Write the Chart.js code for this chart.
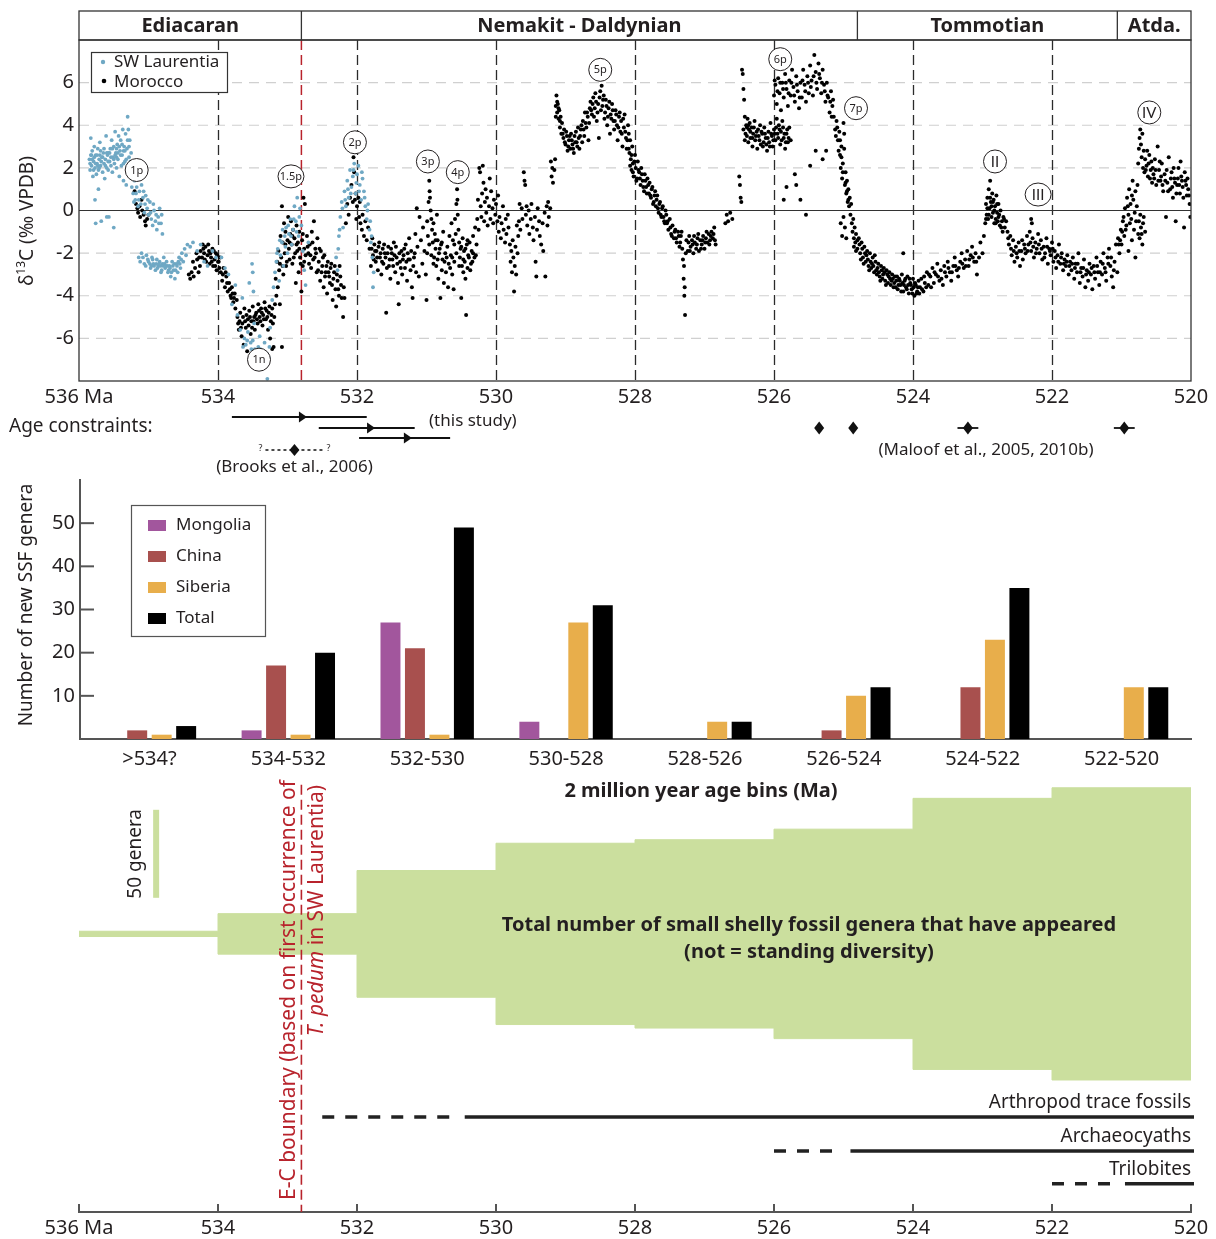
<!DOCTYPE html>
<html>
<head>
<meta charset="utf-8">
<title>Cambrian δ13C and small shelly fossils</title>
<script src="https://cdn.jsdelivr.net/npm/chart.js@4.4.1/dist/chart.umd.min.js"></script>
<style>
  html, body { margin: 0; padding: 0; background: #fff; }
  #wrap { position: relative; width: 1216px; height: 1239px; overflow: hidden; }
  canvas { position: absolute; left: 0; }
</style>
</head>
<body>
<div id="wrap">
  <canvas id="isotopes" width="1216" height="480" style="top:0px"></canvas>
  <canvas id="bars" width="1216" height="347" style="top:463px"></canvas>
  <canvas id="genera" width="1216" height="469" style="top:770px"></canvas>
</div>
<script>
const FONT = '"Noto Sans", "DejaVu Sans", sans-serif';
const INK = '#231f20';
const RED = '#b8232c';
Chart.defaults.font.family = FONT;
Chart.defaults.color = INK;

// δ13C data, [age Ma, δ13C ‰]
const laurentia = [
  [535.85,2.4],[535.84,1.9],[535.83,3.4],[535.82,2.1],[535.81,2.8],[535.8,1.6],[535.79,2.3],[535.78,3.0],[535.77,2.0],[535.76,2.6],
  [535.75,1.7],[535.74,2.2],[535.73,2.9],[535.72,1.9],[535.71,2.4],[535.7,3.2],[535.69,2.1],[535.68,-0.5],[535.67,2.5],[535.66,1.8],
  [535.65,2.7],[535.64,2.2],[535.63,1.5],[535.62,2.4],[535.61,3.5],[535.6,2.0],[535.59,2.6],[535.58,1.9],[535.57,-0.3],[535.56,2.3],
  [535.55,2.9],[535.54,2.1],[535.53,3.3],[535.52,1.8],[535.51,2.5],[535.5,3.0],[535.49,2.2],[535.48,3.7],[535.47,2.7],[535.46,2.0],
  [535.45,3.1],[535.44,2.4],[535.43,3.5],[535.42,1.6],[535.41,2.8],[535.4,3.3],[535.39,2.1],[535.38,2.6],[535.37,3.8],[535.36,1.4],
  [535.35,3.0],[535.34,2.3],[535.33,3.6],[535.32,1.2],[535.31,2.9],[535.3,4.4],[535.29,3.8],[535.28,2.5],[535.27,3.3],[535.26,1.8],
  [535.25,2.7],[535.24,1.1],[535.77,0.5],[535.76,-0.6],[535.6,-0.3],[535.5,-0.8],[535.72,1.0],[535.82,2.6],[535.7,2.6],[535.58,2.7],
  [535.46,2.5],[535.36,2.2],[535.22,0.8],[535.2,1.4],[535.19,0.5],[535.17,1.1],[535.15,0.2],[535.13,0.9],[535.11,0.3],[535.1,1.2],
  [535.08,0.6],[535.06,-0.1],[535.04,0.7],[535.02,0.1],[535.0,-0.2],[534.98,0.4],[534.96,-0.4],[534.94,-0.7],[534.92,0.0],[534.9,-0.5],
  [534.88,-0.9],[534.86,-0.3],[534.84,0.1],[534.82,-0.6],[534.8,-1.1],
  [535.14,-2.2],[535.1,-2.0],[535.06,-2.5],[535.03,-2.1],[535.0,-2.4],[534.97,-2.7],[534.95,-2.2],[534.93,-2.5],[534.9,-2.8],[534.88,-2.3],
  [534.86,-2.6],[534.84,-2.4],[534.82,-2.9],[534.8,-2.5],[534.78,-2.2],[534.76,-2.7],[534.74,-2.4],[534.72,-2.9],[534.7,-2.6],[534.68,-3.1],
  [534.66,-2.4],[534.64,-2.8],[534.62,-3.2],[534.6,-2.5],[534.58,-2.9],[534.56,-2.2],[534.54,-2.7],[534.52,-2.0],[534.5,-2.4],[534.48,-1.8],
  [534.46,-2.1],[534.44,-1.6],[534.4,-1.7],[534.36,-1.5],[534.3,-1.9],[534.25,-1.6],[534.2,-2.4],[534.15,-2.6],[534.08,-1.9],[534.03,-2.2],
  [533.95,-2.2],[533.9,-2.7],[533.85,-3.0],[533.8,-4.4],[533.75,-3.5],[533.72,-4.9],[533.68,-5.6],[533.65,-4.1],[533.62,-6.0],[533.6,-6.3],
  [533.57,-5.7],[533.55,-3.4],[533.52,-6.5],[533.5,-6.1],[533.48,-5.3],[533.45,-6.8],[533.42,-6.4],[533.4,-5.9],[533.38,-7.1],[533.35,-6.6],
  [533.33,-6.2],[533.31,-7.3],[533.29,-7.9],[533.27,-6.9],[533.25,-5.5],[533.22,-4.2],[533.2,-3.6],[533.18,-2.9],[533.16,-2.4],[533.14,-1.8],
  [533.12,-3.3],[533.1,-2.1],[533.08,-1.5],[533.06,-2.6],[533.04,-1.2],[533.02,-0.8],[533.0,-2.0],[532.98,-1.1],[532.96,-0.4],[532.94,-1.6],
  [532.92,-0.9],[532.9,0.2],[532.88,-0.5],[532.86,0.6],[532.84,-1.2],[532.82,0.1],[532.8,-0.7],[532.78,-1.9],[532.76,-2.8],[532.74,-3.5],
  [532.7,-1.5],[533.5,-2.9],[533.49,-3.8],[533.51,-2.5],
  [532.3,-2.2],[532.28,-2.8],[532.27,-1.8],[532.26,-1.2],[532.24,-0.3],[532.22,0.4],[532.2,-0.8],[532.18,0.9],[532.16,0.2],[532.14,1.4],
  [532.12,0.6],[532.1,1.9],[532.08,1.1],[532.06,1.6],[532.04,2.2],[532.02,0.8],[532.0,1.7],[531.98,2.1],[531.96,1.2],[531.94,0.5],
  [531.92,1.5],[531.9,0.9],[531.88,0.2],[531.86,-0.4],[531.84,0.3],[531.82,-0.9],[531.8,-1.5],[531.78,-2.2],[531.77,-3.6],[531.76,-2.9],
  [535.84,2.2],[535.83,2.6],[535.81,2.4],[535.79,1.9],[535.78,2.5],[535.76,2.2],[535.74,2.6],[535.73,2.1],[535.71,2.0],[535.69,2.8],
  [535.68,2.3],[535.66,2.5],[535.64,2.9],[535.62,2.1],[535.6,2.7],[535.58,2.3],[535.56,2.7],[535.54,2.5],[535.52,2.9],[535.5,2.4],
  [535.48,2.6],[535.46,2.9],[535.44,2.7],[535.42,3.0],[535.4,2.6],[535.38,3.1],[535.36,2.8],[535.34,2.8],[535.32,2.4],[535.3,3.3],
  [535.28,3.0],[535.26,2.3],[535.23,1.5],[535.21,0.4],[535.18,0.8],[535.14,0.5],[535.12,1.5],[535.07,0.9],[535.05,0.3],[535.01,0.5],
  [534.97,-0.1],[534.93,0.3],[534.89,-0.2],[534.85,-0.6],[534.81,-0.2],
  [535.12,-2.4],[535.08,-2.2],[535.04,-2.6],[535.01,-2.3],[534.98,-2.5],[534.96,-2.6],[534.94,-2.3],[534.92,-2.6],[534.89,-2.5],[534.87,-2.7],
  [534.85,-2.5],[534.83,-2.6],[534.81,-2.8],[534.79,-2.6],[534.77,-2.5],[534.75,-2.6],[534.73,-2.6],[534.71,-2.8],[534.69,-2.7],[534.67,-2.9],
  [534.65,-2.6],[534.63,-2.5],[534.61,-2.8],[534.59,-2.6],[534.57,-2.4],[534.55,-2.5],[534.53,-2.3],
  [533.64,-6.4],[533.58,-6.1],[533.53,-6.2],[533.47,-6.5],[533.43,-6.8],[533.39,-6.5],[533.34,-7.0],[533.3,-6.7],[533.26,-6.4],
  [533.15,-2.0],[533.11,-1.4],[533.07,-0.9],[533.03,-1.7],[532.99,-0.7],[532.95,-1.2],[532.91,-0.4],[532.87,-1.0],[532.83,-0.3],
  [532.25,-0.9],[532.21,0.1],[532.17,0.5],[532.13,1.0],[532.09,0.8],[532.05,1.9],[532.01,1.3],[531.97,0.9],[531.93,1.8],[531.89,0.6],
  [531.85,0.0],[531.81,-0.5],[531.79,-1.2]
];

const morocco = [
  [535.2,0.9],[535.18,0.3],[535.16,0.1],[535.15,-0.1],[535.13,0.2],[535.12,-0.3],[535.1,0.5],[535.09,0.0],[535.07,-0.2],[535.05,-0.5],
  [535.04,-0.7],[535.02,-0.4],[535.0,-0.2],
  [534.42,-3.0],[534.4,-3.2],[534.38,-2.9],[534.35,-3.1],[534.33,-2.7],[534.3,-2.3],[534.28,-2.9],[534.26,-2.6],[534.25,-1.9],[534.23,-2.2],
  [534.22,-1.6],[534.2,-2.0],[534.18,-1.7],[534.17,-2.4],[534.15,-2.1],[534.13,-1.9],[534.12,-2.5],[534.1,-2.2],[534.08,-1.8],[534.07,-2.6],
  [534.05,-2.3],[534.03,-2.0],[534.02,-2.8],[534.0,-2.4],[533.98,-2.7],
  [533.96,-2.9],[533.94,-3.3],[533.92,-2.7],[533.9,-3.6],[533.88,-3.1],[533.86,-3.8],[533.84,-3.4],[533.82,-4.0],[533.8,-3.6],[533.78,-4.3],
  [533.76,-3.9],[533.75,-4.6],[533.73,-4.2],
  [533.72,-5.0],[533.7,-5.6],[533.68,-4.8],[533.66,-5.9],[533.65,-5.3],[533.63,-6.3],[533.62,-4.6],[533.6,-5.5],[533.58,-6.6],[533.57,-5.1],
  [533.55,-4.7],[533.53,-5.8],[533.52,-5.2],[533.5,-4.5],[533.48,-5.0],[533.47,-5.6],[533.45,-4.8],[533.43,-5.3],[533.42,-4.4],[533.4,-5.0],
  [533.38,-4.6],[533.36,-5.4],[533.35,-4.9],[533.33,-4.3],[533.31,-5.1],[533.3,-4.7],[533.28,-5.6],[533.26,-4.5],[533.25,-6.0],[533.23,-4.9],
  [533.21,-5.3],[533.2,-6.4],[533.08,-6.4],[533.22,-6.5],
  [533.17,-3.2],[533.16,-4.0],[533.15,-2.4],[533.14,-3.6],[533.13,-1.9],[533.12,-2.8],[533.11,-4.4],[533.1,-1.2],[533.09,-2.2],[533.08,0.2],
  [533.07,-1.5],[533.06,-3.0],[533.05,-0.6],[533.04,-2.0],[533.03,-1.0],[533.02,-2.6],[533.0,-1.4],[532.99,-0.3],[532.98,-1.8],[532.97,-2.3],
  [532.96,-1.1],[532.95,-0.5],[532.94,-1.6],[532.93,-2.5],[532.92,-0.9],[532.9,-1.3],[532.89,-2.0],[532.88,-3.4],[532.87,-0.7],[532.86,-1.9],
  [532.85,-1.5],[532.84,-2.9],[532.83,-1.0],[532.82,-2.2],[532.8,-3.8],[532.79,-1.4],[532.78,-2.6],[532.77,0.6],[532.76,-1.8],[532.75,0.3],
  [532.74,-2.1],
  [532.72,-1.2],[532.7,-2.0],[532.68,-1.6],[532.66,-2.7],[532.65,-1.0],[532.63,-2.3],[532.62,-0.5],[532.6,-1.8],[532.58,-2.9],[532.57,-1.3],
  [532.55,-2.4],[532.53,-3.3],[532.52,-1.9],[532.5,-2.6],[532.48,-3.6],[532.47,-2.1],[532.45,-2.9],[532.43,-3.9],[532.42,-2.4],[532.4,-3.1],
  [532.38,-2.7],[532.36,-3.5],[532.35,-4.2],[532.33,-2.9],[532.31,-3.7],[532.3,-4.5],[532.28,-3.3],[532.26,-4.0],[532.25,-2.6],[532.23,-3.5],
  [532.2,-5.0],[532.18,-4.1],
  [532.16,-0.6],[532.14,0.3],[532.12,-0.2],[532.1,0.6],[532.08,1.2],[532.06,0.4],[532.05,2.5],[532.04,1.8],[532.03,0.5],[532.02,0.8],
  [532.01,-0.4],[532.0,0.2],[531.98,0.6],[531.97,-0.3],[531.96,0.4],[531.95,-0.6],[531.93,-0.9],[531.92,-0.2],[531.9,-1.2],[531.88,-0.5],
  [531.86,-1.4],[531.84,-0.8],[531.82,-1.8],[531.8,-2.6],[531.78,-1.3],[531.77,-2.1],[531.75,-1.6],[531.73,-2.4],[531.72,-1.9],[531.7,-2.8],
  [531.68,-1.5],[531.67,-2.2],[531.65,-3.0],[531.63,-1.8],[531.62,-2.5],[531.6,-2.0],[531.58,-4.8],[531.57,-2.7],[531.55,-1.7],[531.53,-2.3],
  [531.52,-3.2],[531.5,-2.0],[531.48,-2.6],[531.47,-1.5],[531.45,-2.9],[531.43,-2.2],[531.41,-3.4],[531.4,-4.4],[531.38,-2.4],[531.36,-1.9],
  [531.35,-3.0],[531.33,-2.1],[531.31,-2.7],[531.3,-1.6],[531.28,-3.3],[531.26,-2.3],[531.25,-1.3],[531.23,-2.8],[531.21,-3.6],[531.2,-4.1],
  [531.18,-2.2],[531.16,-1.1],[531.15,-2.9],[531.14,0.1],[531.13,-1.7],[531.11,-3.1],
  [531.1,-0.3],[531.08,-1.4],[531.06,-2.5],[531.05,-0.8],[531.03,-1.9],[531.01,-3.0],[531.0,-4.2],[530.99,-0.5],[530.98,-1.2],[530.97,0.4],
  [530.96,1.4],[530.955,0.9],[530.95,0.6],[530.94,0.0],[530.93,-0.4],[530.92,-0.9],[530.91,-1.5],[530.9,-0.6],[530.89,-2.2],[530.88,-1.1],
  [530.87,-1.8],[530.86,-2.6],[530.85,-0.2],[530.84,-1.4],[530.83,-3.2],[530.82,-2.0],[530.8,-4.1],[530.79,-1.6],[530.78,-2.8],[530.77,-2.3],
  [530.76,-1.0],[530.75,-3.4],[530.73,-2.0],[530.72,-2.9],[530.7,-1.7],[530.69,-3.6],[530.68,-2.5],[530.67,-1.2],
  [530.65,-2.1],[530.64,-0.6],[530.63,-3.0],[530.62,-1.4],[530.61,-3.7],[530.6,-2.4],[530.59,-0.4],[530.58,-1.1],[530.57,0.3],[530.56,1.0],
  [530.555,0.5],[530.55,-0.2],[530.54,-0.9],[530.53,-1.5],[530.52,-2.2],[530.51,-1.8],[530.5,-4.1],[530.49,-2.6],[530.48,-1.3],[530.47,-2.9],
  [530.46,-1.9],[530.45,-2.4],[530.44,-3.2],[530.43,-4.9],[530.42,-1.6],[530.41,-2.7],[530.4,-2.1],[530.38,-1.5],[530.37,-2.8],[530.35,-1.9],
  [530.34,-2.4],[530.33,-1.2],[530.31,-2.2],[530.3,-0.8],
  [530.28,-1.6],[530.27,-0.4],[530.26,0.5],[530.25,-0.9],[530.24,2.0],[530.23,1.8],[530.22,0.2],[530.21,-0.3],[530.2,0.8],[530.19,2.1],
  [530.18,1.3],[530.17,-0.5],[530.16,0.4],[530.15,1.0],[530.14,-0.1],[530.13,0.6],[530.12,-0.7],[530.1,0.2],[530.09,1.5],[530.08,-0.4],
  [530.07,0.9],[530.05,0.1],[530.04,-0.6],[530.03,0.5],[530.01,-0.2],[530.0,0.3],
  [529.98,-0.5],[529.97,0.7],[529.96,-1.0],[529.95,-0.3],[529.93,-1.3],[529.92,-0.6],[529.9,0.2],[529.89,-0.9],[529.87,-1.5],[529.86,-0.4],
  [529.85,-1.1],[529.83,-0.2],[529.82,-0.8],[529.8,-1.6],[529.79,-2.4],[529.78,-1.9],[529.77,-2.9],[529.76,-1.4],[529.75,-2.2],[529.74,-3.8],
  [529.73,-2.6],[529.72,-1.7],[529.71,-3.0],[529.7,-0.7],[529.69,-2.0],[529.68,-1.2],[529.67,-0.5],[529.66,0.3],[529.65,-0.9],[529.63,0.1],
  [529.62,-0.4],
  [529.6,1.8],[529.59,1.4],[529.58,1.2],[529.57,-0.2],[529.56,0.2],[529.55,-0.7],[529.53,0.0],[529.52,-1.1],[529.5,-0.4],[529.49,0.3],
  [529.47,-0.8],[529.46,-1.4],[529.44,-0.3],[529.43,-2.4],[529.42,-3.1],[529.41,-0.9],[529.4,0.1],[529.38,-0.5],[529.37,-1.2],[529.35,-1.6],
  [529.33,-0.6],[529.32,-1.9],[529.3,-0.1],[529.29,-3.1],[529.27,0.2],[529.26,-0.7],[529.25,0.4],[529.24,-0.3],[529.22,0.1],
  [529.21,2.3],[529.2,1.6],[529.19,2.0],[529.18,1.3],[529.16,1.9],[529.15,2.4],[529.14,4.9],[529.13,5.4],[529.12,4.6],[529.11,5.0],
  [529.1,4.3],[529.09,4.7],[529.08,3.9],[529.07,4.4],[529.06,3.6],[529.05,4.1],
  [529.03,3.4],[529.02,3.8],[529.0,3.1],[528.98,3.5],[528.97,2.8],[528.95,3.3],[528.93,2.9],[528.92,3.6],[528.9,3.1],[528.88,2.7],
  [528.86,3.2],[528.85,3.7],[528.83,3.0],[528.81,3.4],[528.8,2.9],[528.78,3.8],[528.76,3.2],[528.75,4.2],[528.73,3.5],[528.72,4.6],
  [528.7,3.9],[528.68,4.4],[528.67,3.3],[528.65,4.8],
  [528.64,5.1],[528.62,4.5],[528.6,5.3],[528.58,4.8],[528.57,5.5],[528.55,4.2],[528.53,5.0],[528.52,3.4],[528.5,5.6],[528.48,5.85],
  [528.47,4.9],[528.45,5.4],[528.43,4.6],[528.42,5.2],[528.4,4.0],[528.38,4.8],[528.36,3.6],[528.35,4.5],[528.33,5.0],[528.31,4.2],
  [528.3,3.8],[528.28,4.7],[528.26,4.0],[528.25,3.3],[528.23,4.4],[528.21,3.7],[528.2,4.2],[528.18,3.0],[528.16,3.9],[528.15,4.5],
  [528.13,3.4],[528.12,2.9],
  [528.1,4.0],[528.09,3.6],[528.08,2.7],[528.07,3.3],[528.06,2.4],[528.05,1.9],[528.04,3.0],[528.03,2.2],[528.02,1.6],[528.0,2.6],
  [527.99,2.0],[527.97,1.5],[527.96,2.3],[527.94,1.8],[527.92,1.2],[527.91,2.0],[527.89,1.4],[527.87,0.9],[527.86,1.7],[527.84,1.1],
  [527.82,1.5],[527.8,0.8],[527.79,1.3],[527.77,0.6],[527.75,1.1],[527.73,0.4],[527.71,0.9],[527.7,0.2],[527.68,0.7],[527.66,-0.1],
  [527.64,0.4],[527.62,-0.3],[527.6,0.2],[527.58,-0.5],[527.56,0.0],
  [527.54,-0.6],[527.52,-0.9],[527.5,-0.4],[527.48,-1.1],[527.46,-0.7],[527.44,-1.3],[527.42,-0.9],[527.4,-1.5],[527.38,-1.0],[527.36,-1.7],
  [527.34,-1.2],[527.32,-1.8],[527.31,-2.3],[527.3,-3.2],[527.295,-2.6],[527.29,-4.0],[527.285,-3.6],[527.28,-4.9],[527.27,-2.0],[527.26,-1.4],
  [527.24,-1.9],[527.22,-1.2],[527.2,-1.7],[527.18,-1.4],[527.16,-2.0],[527.14,-1.5],[527.12,-1.8],[527.1,-1.3],[527.08,-1.9],[527.06,-1.4],
  [527.04,-1.6],[527.02,-1.2],[527.0,-1.8],[526.98,-1.3],[526.96,-1.5],[526.94,-1.1],[526.92,-1.4],[526.9,-1.0],[526.88,-1.3],[526.86,-0.8],
  [526.84,-1.6],[526.7,-0.6],[526.68,-0.2],[526.66,-0.5],[526.63,-0.1],[526.6,-0.4],[526.5,1.6],[526.49,1.2],[526.48,0.6],[526.47,0.4],
  [526.46,6.6],[526.45,6.4],[526.44,5.7],[526.43,5.2],[526.42,4.4],[526.41,3.6],[526.4,4.0],[526.39,3.5],[526.38,4.3],[526.37,3.2],
  [526.36,3.8],[526.35,4.1],[526.34,3.4],[526.32,3.9],[526.31,3.0],[526.3,3.6],[526.28,4.2],[526.27,3.3],[526.25,3.7],[526.24,2.9],
  [526.22,3.5],[526.2,4.0],[526.19,3.1],[526.17,3.6],[526.15,3.2],[526.14,3.9],[526.12,3.4],[526.1,2.8],[526.08,3.7],[526.07,3.2],
  [526.05,4.1],[526.03,3.5],[526.02,3.0],[526.0,3.8],[525.98,3.3],[525.96,4.3],[525.95,3.6],[525.93,4.0],[525.91,3.1],[525.9,3.7],
  [525.88,4.2],[525.86,3.4],[525.84,2.9],[525.82,3.6],[525.8,3.2],[525.78,3.9],[525.76,3.3],
  [526.0,5.4],[525.98,5.9],[525.96,5.0],[525.94,6.2],[525.92,5.5],[525.9,4.7],[525.88,6.0],[525.86,5.3],[525.84,6.4],[525.82,5.7],
  [525.8,4.9],[525.78,6.1],[525.76,5.4],[525.74,6.6],[525.72,5.8],[525.7,5.1],[525.68,6.3],[525.66,5.6],[525.64,4.8],[525.62,6.0],
  [525.6,5.3],[525.58,6.6],[525.56,5.9],[525.54,5.1],[525.52,6.3],[525.5,5.5],[525.48,6.8],[525.46,6.1],[525.44,5.4],[525.42,7.3],
  [525.4,6.5],[525.38,5.7],[525.36,6.9],[525.34,6.2],[525.32,5.5],[525.3,6.6],[525.28,5.9],[525.26,5.1],[525.24,6.0],[525.22,5.3],
  [525.2,4.6],[525.18,5.6],[525.16,4.9],
  [525.86,0.5],[525.7,1.7],[525.68,1.2],[525.62,0.5],[525.54,-0.2],[525.48,2.1],[525.4,2.8],[525.3,2.4],[525.25,2.8],[525.82,1.1],
  [525.14,4.4],[525.12,3.8],[525.1,4.2],[525.08,3.3],[525.06,3.7],[525.05,2.6],[525.04,2.0],[525.03,3.0],[525.02,1.5],[525.01,2.2],
  [525.0,4.1],[524.99,3.6],[524.98,1.2],[524.97,1.8],[524.96,0.8],[524.95,1.4],[524.94,0.4],[524.93,1.0],[524.92,0.2],[524.91,0.6],
  [524.9,-0.2],[524.89,0.3],[524.88,-0.6],[524.87,-1.0],[524.86,-0.4],[524.85,-1.3],[524.84,-0.8],[524.83,-1.5],[525.04,-0.6],[525.02,-1.2],
  [524.82,-1.1],[524.8,-1.8],[524.78,-1.3],[524.76,-2.0],[524.74,-1.5],[524.72,-2.2],[524.7,-1.7],[524.68,-2.4],[524.66,-1.9],[524.64,-2.6],
  [524.62,-2.0],[524.6,-2.7],[524.58,-2.2],[524.56,-2.9],[524.54,-2.4],[524.52,-3.0],[524.5,-2.5],[524.48,-3.1],[524.46,-2.6],[524.44,-3.2],
  [524.42,-2.7],[524.4,-3.3],[524.38,-2.8],[524.36,-3.4],[524.34,-2.9],[524.32,-3.5],[524.3,-3.0],[524.28,-3.6],[524.26,-3.1],[524.24,-3.3],
  [524.22,-3.7],[524.2,-3.2],[524.18,-3.5],[524.16,-3.0],[524.14,-3.8],[524.12,-3.3],[524.1,-3.6],[524.08,-3.1],[524.06,-3.9],[524.04,-3.4],
  [524.02,-3.7],[524.0,-3.2],[523.98,-4.0],[523.96,-3.5],[523.94,-3.8],[523.92,-3.3],[524.14,-2.0],
  [523.9,-3.6],[523.88,-3.2],[523.85,-3.8],[523.83,-3.4],[523.8,-2.9],[523.78,-3.5],[523.75,-3.1],[523.72,-2.7],[523.7,-3.4],[523.67,-3.0],
  [523.65,-2.5],[523.62,-3.3],[523.6,-2.8],[523.57,-3.5],[523.55,-2.6],[523.52,-3.1],[523.5,-2.4],[523.47,-2.9],[523.45,-3.3],[523.42,-2.6],
  [523.4,-2.2],[523.37,-2.8],[523.35,-3.1],[523.32,-2.4],[523.3,-2.0],[523.27,-2.7],[523.25,-2.3],[523.22,-1.9],[523.2,-2.6],[523.17,-2.1],
  [523.15,-1.7],[523.12,-2.4],[523.1,-2.0],[523.08,-3.0],[523.05,-2.2],[523.03,-1.5],[523.0,-2.0],[522.98,-1.2],
  [522.96,-0.6],[522.95,0.3],[522.94,-0.2],[522.93,0.6],[522.92,-0.4],[522.91,1.0],[522.9,0.1],[522.89,1.4],[522.88,0.4],[522.87,-0.3],
  [522.86,0.8],[522.85,-0.1],[522.84,0.5],[522.83,-0.6],[522.82,0.2],[522.81,-0.4],[522.8,0.7],[522.79,-0.1],[522.78,-0.5],[522.77,0.3],
  [522.76,-0.2],[522.75,-0.7],[522.74,0.0],[522.72,-0.5],[522.7,-0.3],[522.68,-0.8],[522.66,-0.5],
  [522.64,-1.0],[522.62,-1.6],[522.6,-1.2],[522.58,-2.1],[522.56,-1.4],[522.54,-2.4],[522.52,-1.7],[522.5,-2.2],[522.48,-1.5],[522.46,-2.6],
  [522.44,-1.9],[522.42,-2.3],[522.4,-1.6],[522.38,-2.0],[522.3,-0.4],[522.29,-0.6],
  [522.36,-1.2],[522.34,-1.6],[522.32,-1.0],[522.3,-1.9],[522.28,-1.3],[522.26,-2.2],[522.24,-1.5],[522.22,-1.8],[522.2,-1.1],[522.18,-2.0],
  [522.16,-1.4],[522.14,-2.3],[522.12,-1.7],[522.1,-2.0],[522.08,-1.3],[522.06,-2.5],[522.04,-1.8],[522.02,-2.1],[522.0,-1.5],[521.98,-2.4],
  [521.96,-1.9],[521.94,-2.7],[521.92,-2.1],[521.9,-1.6],[521.88,-2.5],[521.86,-2.0],[521.84,-2.8],[521.82,-2.3],
  [521.8,-2.6],[521.78,-2.1],[521.76,-3.0],[521.74,-2.4],[521.72,-2.8],[521.7,-2.2],[521.68,-3.2],[521.66,-2.5],[521.64,-2.9],[521.62,-2.0],
  [521.6,-3.4],[521.58,-2.7],[521.56,-3.1],[521.54,-2.3],[521.52,-3.6],[521.5,-2.8],[521.48,-3.3],[521.46,-2.5],[521.44,-3.0],[521.42,-3.7],
  [521.4,-2.6],[521.38,-3.2],[521.36,-2.2],[521.34,-2.9],[521.32,-3.5],[521.3,-2.4],[521.28,-3.0],[521.26,-2.0],[521.24,-2.7],[521.22,-3.3],
  [521.2,-2.2],[521.18,-1.8],[521.16,-2.6],[521.14,-3.1],[521.12,-3.6],[521.1,-2.4],[521.08,-1.6],[521.06,-2.9],
  [521.05,-1.3],[521.03,-2.0],[521.01,-0.9],[521.0,-1.6],[520.98,-0.5],[520.96,-1.2],[520.95,0.1],[520.93,-0.7],[520.92,0.6],[520.9,-0.2],
  [520.89,1.0],[520.87,0.3],[520.86,-0.4],[520.84,1.4],[520.83,0.5],[520.81,-0.1],[520.8,0.9],[520.78,0.2],[520.77,1.2],[520.75,-0.5],
  [520.74,-1.3],[520.72,-0.8],[520.7,-1.6],[520.68,-0.3],[520.66,-1.0],[520.9,-1.9],[520.85,-1.4],[520.8,-2.2],
  [520.76,2.2],[520.75,2.9],[520.74,3.4],[520.73,3.8],[520.72,3.1],[520.71,2.5],[520.7,3.6],[520.69,2.0],[520.68,2.8],[520.67,1.8],
  [520.66,2.4],[520.64,2.1],[520.62,1.6],[520.6,2.6],[520.58,1.9],[520.56,1.3],
  [520.54,1.7],[520.52,2.4],[520.5,1.2],[520.48,3.0],[520.46,1.9],[520.44,1.4],[520.42,2.2],[520.4,0.9],[520.38,1.7],[520.36,-0.3],
  [520.34,1.3],[520.32,2.5],[520.3,1.0],[520.28,1.8],[520.26,0.6],[520.24,1.5],[520.22,-0.5],[520.2,1.2],[520.18,2.0],[520.16,0.8],
  [520.14,1.6],[520.12,1.1],[520.1,-0.8],[520.08,1.4],[520.06,0.7],[520.04,1.0],[520.02,0.3],[520.01,-0.3],
  [534.36,-2.4],[534.31,-2.0],[534.27,-2.2],[534.21,-1.8],[534.19,-2.3],[534.14,-1.6],[534.11,-2.0],[534.09,-2.4],[534.06,-1.9],[534.04,-2.6],
  [534.01,-2.1],[533.99,-2.4],[533.97,-2.2],[533.93,-3.0],[533.89,-2.9],[533.87,-3.4],[533.83,-3.7],[533.81,-4.1],[533.79,-3.9],[533.77,-4.1],
  [533.71,-5.3],[533.69,-5.2],[533.67,-5.5],[533.64,-5.0],[533.61,-5.2],[533.59,-4.9],[533.56,-5.4],[533.54,-5.0],[533.51,-5.5],[533.49,-5.2],
  [533.46,-4.9],[533.44,-5.1],[533.41,-4.7],[533.39,-5.2],[533.37,-4.8],[533.34,-5.1],[533.32,-4.6],[533.29,-5.0],[533.27,-4.8],[533.24,-5.2],
  [533.22,-4.6],[533.19,-5.0],[533.18,-4.4],
  [533.11,-2.5],[533.07,-2.6],[533.03,-1.6],[533.01,-2.4],[532.97,-1.5],[532.93,-1.2],[532.91,-2.2],[532.87,-1.6],[532.83,-1.8],[532.81,-2.5],
  [532.78,-1.1],[532.76,-2.4],
  [532.71,-1.7],[532.69,-2.5],[532.67,-2.1],[532.64,-1.5],[532.61,-2.2],[532.59,-2.0],[532.56,-2.8],[532.54,-1.8],[532.51,-2.9],[532.49,-2.2],
  [532.46,-3.1],[532.44,-2.6],[532.41,-2.9],[532.39,-3.4],[532.37,-2.5],[532.34,-3.2],[532.32,-2.6],[532.29,-3.0],[532.27,-3.7],[532.24,-3.1],
  [532.22,-4.1],[532.19,-3.6],
  [531.79,-1.8],[531.76,-2.3],[531.74,-1.9],[531.71,-2.2],[531.69,-1.7],[531.66,-2.0],[531.64,-2.4],[531.61,-1.6],[531.59,-2.2],[531.56,-2.0],
  [531.54,-2.6],[531.51,-1.8],[531.49,-2.3],[531.46,-2.1],[531.44,-1.7],[531.42,-2.5],[531.39,-2.0],[531.37,-2.7],[531.34,-2.3],[531.32,-1.8],
  [531.29,-2.4],[531.27,-2.0],[531.24,-2.3],[531.22,-1.9],[531.19,-2.6],[531.17,-2.0],
  [530.99,-2.0],[530.96,-1.6],[530.93,-2.1],[530.9,-2.5],[530.87,-1.4],[530.84,-2.3],[530.81,-1.8],[530.78,-1.5],[530.74,-2.4],[530.71,-2.2],
  [530.66,-2.7],[530.63,-2.2],[530.6,-1.6],[530.57,-2.0],[530.53,-2.6],[530.5,-1.7],[530.47,-2.3],[530.44,-1.8],[530.41,-1.4],[530.39,-2.2],
  [530.36,-2.5],[530.33,-2.0],[530.29,-2.1],
  [529.14,4.4],[529.12,5.1],[529.1,4.8],[529.08,4.2],[529.04,3.6],[529.01,3.2],[528.99,3.7],[528.96,3.0],[528.94,3.5],[528.91,3.3],
  [528.89,2.9],[528.87,3.5],[528.84,3.2],[528.82,3.9],[528.79,3.5],[528.77,4.0],[528.74,3.8],[528.71,4.1],[528.69,4.6],[528.66,4.1],
  [528.63,4.7],[528.61,5.0],[528.59,4.4],[528.56,5.1],[528.54,4.6],[528.51,5.3],[528.49,4.7],[528.46,5.2],[528.44,4.3],[528.41,4.9],
  [528.39,4.4],[528.37,5.1],[528.34,4.3],[528.32,4.7],[528.29,4.2],[528.27,4.5],[528.24,3.9],[528.22,4.6],[528.19,3.6],[528.17,4.3],
  [528.14,3.7],[528.11,3.3],
  [528.09,2.9],[528.07,2.1],[528.05,2.6],[528.03,1.8],[528.01,2.3],[527.98,1.4],[527.95,1.9],[527.93,1.5],[527.9,1.7],[527.88,1.1],
  [527.85,1.4],[527.83,0.8],[527.81,1.2],[527.78,0.7],[527.76,1.0],[527.74,0.3],[527.72,0.7],[527.69,0.5],[527.67,0.1],[527.65,0.3],
  [527.63,-0.2],[527.61,0.1],[527.59,-0.3],[527.57,-0.6],[527.55,-0.2],
  [527.53,-0.5],[527.49,-0.8],[527.47,-1.2],[527.43,-1.0],[527.41,-1.3],[527.37,-1.2],[527.35,-1.5],[527.33,-1.0],[527.23,-1.5],[527.21,-1.9],
  [527.17,-1.6],[527.15,-1.2],[527.11,-1.6],[527.09,-1.1],[527.05,-1.8],[527.03,-1.4],[526.99,-1.5],[526.97,-1.0],[526.93,-1.6],[526.91,-1.2],
  [526.87,-1.1],[526.85,-1.4],
  [526.44,3.8],[526.42,3.3],[526.39,3.9],[526.37,4.0],[526.34,3.7],[526.31,3.4],[526.29,3.9],[526.26,3.5],[526.23,3.8],[526.21,3.3],
  [526.18,3.7],[526.16,3.0],[526.13,3.6],[526.11,3.1],[526.09,3.4],[526.06,3.0],[526.04,3.6],[526.01,3.3],[525.99,3.6],[525.97,3.9],
  [525.94,3.4],[525.92,3.8],[525.89,3.3],[525.87,3.9],[525.85,3.6],[525.83,3.2],[525.81,3.8],[525.79,3.4],
  [525.99,6.1],[525.95,5.6],[525.91,6.0],[525.87,5.7],[525.83,6.0],[525.79,5.5],[525.75,6.0],[525.71,5.4],[525.67,5.9],[525.63,5.3],
  [525.59,6.1],[525.55,5.6],[525.51,6.0],[525.47,5.8],[525.43,6.3],[525.39,6.0],[525.35,6.4],[525.31,6.0],[525.27,5.6],[525.23,5.4],
  [525.19,5.1],[525.17,4.4],[525.15,5.2],
  [525.11,3.5],[525.09,3.9],[525.07,2.8],[525.05,3.3],[525.03,2.5],[525.01,1.8],[524.99,2.9],[524.97,1.3],[524.95,0.9],[524.93,0.5],
  [525.0,-0.3],[524.98,-0.8],[524.96,-1.3],
  [524.85,-1.7],[524.82,-1.9],[524.8,-1.4],[524.77,-1.6],[524.75,-2.3],[524.73,-1.8],[524.71,-2.5],[524.69,-2.0],[524.67,-2.1],[524.65,-2.3],
  [524.63,-2.8],[524.61,-2.4],[524.59,-2.5],[524.57,-2.6],[524.55,-2.1],[524.53,-2.8],[524.51,-2.7],[524.49,-2.9],[524.47,-3.3],[524.45,-2.8],
  [524.43,-3.0],[524.41,-2.9],[524.39,-3.5],[524.37,-3.0],[524.35,-3.1],[524.33,-3.2],[524.31,-3.3],[524.29,-3.2],[524.27,-3.4],[524.25,-3.6],
  [524.23,-3.1],[524.21,-3.5],[524.19,-3.3],[524.17,-3.8],[524.15,-3.4],[524.13,-3.5],[524.11,-3.2],[524.09,-3.7],[524.07,-3.5],[524.05,-3.2],
  [524.03,-3.5],[524.01,-3.9],[523.99,-3.6],[523.97,-3.4],[523.95,-3.9],[523.93,-3.6],[523.91,-3.9],
  [523.87,-3.7],[523.84,-3.1],[523.81,-3.6],[523.77,-3.0],[523.74,-3.6],[523.69,-2.9],[523.64,-3.1],[523.59,-3.2],[523.54,-2.9],[523.49,-2.7],
  [523.44,-2.9],[523.39,-2.6],[523.34,-2.7],[523.29,-2.5],[523.24,-2.6],[523.19,-2.3],[523.14,-2.2],[523.09,-2.4],
  [522.95,-0.4],[522.93,0.1],[522.91,-0.2],[522.89,0.6],[522.87,0.2],[522.85,0.4],[522.83,0.0],[522.81,-0.6],[522.79,0.3],[522.77,-0.3],
  [522.73,-0.8],[522.71,-1.0],[522.69,-0.4],
  [522.63,-1.3],[522.59,-1.8],[522.55,-1.9],[522.51,-2.0],[522.47,-1.9],[522.43,-1.4],[522.39,-1.8],[522.35,-1.9],[522.31,-1.5],[522.27,-1.7],
  [522.23,-2.0],[522.19,-1.6],[522.15,-1.8],[522.11,-2.2],[522.07,-1.7],[522.03,-1.9],[521.99,-1.8],[521.95,-2.2],[521.91,-2.4],[521.87,-2.2],
  [521.83,-2.5],[521.79,-2.4],[521.75,-2.6],[521.71,-2.5],[521.67,-2.7],[521.63,-2.5],[521.59,-2.9],[521.55,-2.7],[521.51,-3.0],[521.47,-2.9],
  [521.43,-2.7],[521.39,-2.9],[521.35,-2.6],[521.31,-2.9],[521.27,-2.5],[521.23,-2.9],[521.19,-2.5],[521.15,-2.2],[521.11,-2.8],
  [521.04,-1.6],[521.02,-1.4],[520.99,-1.0],[520.97,-0.3],[520.94,-0.9],[520.91,0.2],[520.88,-0.6],[520.85,0.7],[520.82,-0.9],[520.79,-0.5],
  [520.76,-1.1],[520.73,-0.2],[520.71,-1.1],[520.69,-0.6],[520.65,1.9],[520.63,2.8],[520.61,2.2],[520.59,1.5],[520.57,2.3],[520.55,2.0],
  [520.53,1.5],[520.51,1.9],[520.47,1.4],[520.45,2.3],[520.43,1.6],[520.41,1.2],[520.37,1.4],[520.35,1.9],[520.33,0.9],[520.29,1.5],
  [520.27,1.1],[520.25,2.0],[520.23,1.3],[520.21,0.8],[520.19,1.5],[520.17,1.2],[520.15,2.3],[520.13,1.4],[520.11,0.6],[520.09,1.8],
  [520.07,1.2],[520.05,1.5],[520.03,0.7]
];

// chronostratigraphy
const stageNames = ['Ediacaran', 'Nemakit - Daldynian', 'Tommotian', 'Atda.'];
const stageBounds = [536, 532.8, 524.8, 521.06, 520];
const boundaryAge = 532.8;

// labelled isotope peaks
const peakLabels = ['1p', '1n', '1.5p', '2p', '3p', '4p', '5p', '6p', '7p', 'II', 'III', 'IV'];
const peakAges = [535.17, 533.41, 532.95, 532.03, 530.98, 530.55, 528.5, 525.91, 524.82, 522.82, 522.2, 520.6];
const peakValues = [1.9, -7.0, 1.6, 3.2, 2.3, 1.8, 6.6, 7.1, 4.8, 2.3, 0.75, 4.6];

// age constraints
const studyStart = [533.80, 532.55, 531.97];
const studyEnd = [531.86, 531.17, 530.66];
const studyMarker = [532.72, 531.74, 531.21];
const maloofAges = [525.35, 524.86, 523.21, 520.96];
const maloofErr = [0, 0, 0.15, 0.15];
const brooksAge = 532.9;

// new SSF genera per 2 Myr bin
const ageBins = ['>534?', '534-532', '532-530', '530-528', '528-526', '526-524', '524-522', '522-520'];
const mongolia = [0, 2, 27, 4, 0, 0, 0, 0];
const china = [2, 17, 21, 0, 0, 2, 12, 0];
const siberia = [1, 1, 1, 27, 4, 10, 23, 12];
const total = [3, 20, 49, 31, 4, 12, 35, 12];

// total genera that have appeared (cumulative), by bin start
const binStart = [536, 534, 532, 530, 528, 526, 524, 522, 520];
const cumulativeGenera = [3, 23, 72, 103, 107, 119, 154, 166, 166];

// first appearances of other groups
const groupNames = ['Arthropod trace fossils', 'Archaeocyaths', 'Trilobites'];
const dashedFrom = [532.5, 526.0, 522.0];
const solidFrom = [530.45, 524.9, 520.95];
const rangeEnd = 520;

const GREEN = '#cbdf9e';

function line(ctx, x1, y1, x2, y2) {
  ctx.beginPath(); ctx.moveTo(x1, y1); ctx.lineTo(x2, y2); ctx.stroke();
}

function diamond(ctx, x, y, w, h) {
  ctx.beginPath();
  ctx.moveTo(x, y - h); ctx.lineTo(x + w, y); ctx.lineTo(x, y + h); ctx.lineTo(x - w, y);
  ctx.closePath(); ctx.fill();
}

function rotatedText(ctx, text, x, y, font, color, align) {
  ctx.save();
  ctx.translate(x, y);
  ctx.rotate(-Math.PI / 2);
  ctx.font = font; ctx.fillStyle = color;
  ctx.textAlign = align || 'center'; ctx.textBaseline = 'middle';
  ctx.fillText(text, 0, 0);
  ctx.restore();
}

const isotopeDecor = {
  id: 'isotopeDecor',
  beforeDatasetsDraw(chart) {
    const { ctx, chartArea: a, scales: { x, y } } = chart;
    ctx.save();
    ctx.lineWidth = 1.2;
    ctx.strokeStyle = '#d0d0d0';
    ctx.setLineDash([10, 7]);
    [-6, -4, -2, 2, 4, 6].forEach(v => line(ctx, a.left, y.getPixelForValue(v), a.right, y.getPixelForValue(v)));
    ctx.strokeStyle = '#2b2b2b';
    ctx.lineWidth = 1.3;
    ctx.setLineDash([10, 5]);
    for (let age = 534; age >= 522; age -= 2) {
      const px = Math.round(x.getPixelForValue(age)) + 0.5;
      line(ctx, px, a.top, px, a.bottom);
    }
    ctx.setLineDash([]);
    ctx.lineWidth = 1.2;
    ctx.strokeStyle = '#333';
    line(ctx, a.left, y.getPixelForValue(0), a.right, y.getPixelForValue(0));
    ctx.strokeStyle = RED;
    ctx.lineWidth = 1.5;
    ctx.setLineDash([10, 5]);
    const bx = x.getPixelForValue(boundaryAge);
    line(ctx, bx, a.top, bx, a.bottom);
    ctx.restore();
  },
  afterDatasetsDraw(chart) {
    const { ctx, scales: { x, y } } = chart;
    ctx.save();
    // peak labels
    peakLabels.forEach((lab, i) => {
      const px = x.getPixelForValue(peakAges[i]);
      const py = y.getPixelForValue(peakValues[i]);
      const roman = /^[IV]+$/.test(lab);
      const rx = lab.length > 2 ? 13 : 11.5;
      ctx.beginPath();
      ctx.ellipse(px, py, rx, 11.5, 0, 0, Math.PI * 2);
      ctx.fillStyle = '#fff'; ctx.fill();
      ctx.lineWidth = 1; ctx.strokeStyle = INK; ctx.stroke();
      ctx.fillStyle = INK;
      ctx.font = roman ? '15px Lato, sans-serif' : '11px ' + FONT;
      ctx.textAlign = 'center'; ctx.textBaseline = 'middle';
      ctx.fillText(lab, px, py + 0.5);
    });
    // legend
    ctx.fillStyle = '#fff';
    ctx.fillRect(91, 52, 137, 41);
    ctx.lineWidth = 1.2; ctx.strokeStyle = '#333';
    ctx.strokeRect(91.5, 52.5, 136, 40);
    ctx.fillStyle = '#6fa8c4';
    ctx.beginPath(); ctx.arc(103, 62, 2.2, 0, Math.PI * 2); ctx.fill();
    ctx.fillStyle = '#000';
    ctx.beginPath(); ctx.arc(104, 81, 2.3, 0, Math.PI * 2); ctx.fill();
    ctx.fillStyle = INK;
    ctx.font = '17px ' + FONT; ctx.textAlign = 'left'; ctx.textBaseline = 'middle';
    ctx.fillText('SW Laurentia', 114, 62);
    ctx.fillText('Morocco', 114, 82);
    ctx.restore();
  },
  afterDraw(chart) {
    const { ctx, chartArea: a, scales: { x } } = chart;
    ctx.save();
    // frame
    ctx.lineWidth = 1.3; ctx.strokeStyle = '#333';
    ctx.strokeRect(a.left, a.top, a.right - a.left, a.bottom - a.top);
    // stage header
    const top = 11;
    ctx.strokeRect(a.left, top, a.right - a.left, a.top - top);
    ctx.font = 'bold 20px ' + FONT; ctx.fillStyle = INK;
    ctx.textAlign = 'center'; ctx.textBaseline = 'middle';
    stageNames.forEach((name, i) => {
      const x0 = x.getPixelForValue(stageBounds[i]);
      const x1 = x.getPixelForValue(stageBounds[i + 1]);
      if (i > 0) line(ctx, x0, top, x0, a.top);
      ctx.fillText(name, (x0 + x1) / 2, (top + a.top) / 2 + 1);
    });
    // y title
    ctx.save();
    ctx.translate(28, 221);
    ctx.rotate(-Math.PI / 2);
    ctx.textBaseline = 'middle'; ctx.textAlign = 'left';
    ctx.font = '19px ' + FONT;
    const p1 = 'δ', p2 = '13', p3 = 'C (‰ VPDB)';
    const w1 = ctx.measureText(p1).width;
    ctx.font = '12px ' + FONT;
    const w2 = ctx.measureText(p2).width;
    ctx.font = '19px ' + FONT;
    const w3 = ctx.measureText(p3).width;
    let sx = -(w1 + w2 + w3) / 2;
    ctx.fillText(p1, sx, 0); sx += w1;
    ctx.font = '12px ' + FONT; ctx.fillText(p2, sx, -6); sx += w2;
    ctx.font = '19px ' + FONT; ctx.fillText(p3, sx, 0);
    ctx.restore();

    // age constraints
    ctx.fillStyle = INK; ctx.strokeStyle = '#111';
    ctx.font = '19px ' + FONT; ctx.textAlign = 'left'; ctx.textBaseline = 'middle';
    ctx.fillText('Age constraints:', 9, 427);
    const rows = [417, 428, 438];
    ctx.lineWidth = 1.8;
    studyStart.forEach((s, i) => {
      const x0 = x.getPixelForValue(s), x1 = x.getPixelForValue(studyEnd[i]);
      line(ctx, x0, rows[i], x1, rows[i]);
      const tx = x.getPixelForValue(studyMarker[i]);
      ctx.beginPath();
      ctx.moveTo(tx, rows[i]); ctx.lineTo(tx - 8, rows[i] - 5.5); ctx.lineTo(tx - 8, rows[i] + 5.5);
      ctx.closePath(); ctx.fillStyle = '#111'; ctx.fill();
    });
    ctx.fillStyle = INK;
    ctx.font = '17px ' + FONT;
    ctx.fillText('(this study)', 429, 421);
    // Brooks et al.
    const bx = x.getPixelForValue(brooksAge);
    ctx.lineWidth = 1.5; ctx.setLineDash([3, 3]);
    line(ctx, bx - 29, 450, bx + 30, 450);
    ctx.setLineDash([]);
    ctx.fillStyle = '#111';
    diamond(ctx, bx, 450, 5, 6);
    ctx.fillStyle = INK;
    ctx.font = '9px ' + FONT; ctx.textAlign = 'center';
    ctx.fillText('?', bx - 34, 448);
    ctx.fillText('?', bx + 34, 448);
    ctx.font = '17px ' + FONT;
    ctx.fillText('(Brooks et al., 2006)', bx, 467);
    // Maloof et al.
    ctx.lineWidth = 1.8;
    maloofAges.forEach((age, i) => {
      const mx = x.getPixelForValue(age);
      if (maloofErr[i] > 0) {
        line(ctx, x.getPixelForValue(age + maloofErr[i]), 428, x.getPixelForValue(age - maloofErr[i]), 428);
      }
      ctx.fillStyle = '#111';
      diamond(ctx, mx, 428, 5, 6.5);
    });
    ctx.fillStyle = INK;
    ctx.font = '17px ' + FONT; ctx.textAlign = 'center';
    ctx.fillText('(Maloof et al., 2005, 2010b)', 986, 450);
    ctx.restore();
  }
};

new Chart(document.getElementById('isotopes'), {
  type: 'scatter',
  data: {
    datasets: [
      { label: 'SW Laurentia', data: laurentia.map(([a, d]) => ({ x: a, y: d })),
        backgroundColor: '#6fa8c4', borderWidth: 0, pointRadius: 1.9 },
      { label: 'Morocco', data: morocco.map(([a, d]) => ({ x: a, y: d })),
        backgroundColor: '#000', borderWidth: 0, pointRadius: 2.0 }
    ]
  },
  options: {
    responsive: false,
    animation: false,
    layout: { padding: { top: 40, right: 25, bottom: 69, left: 0 } },
    plugins: { legend: { display: false }, tooltip: { enabled: false } },
    scales: {
      x: {
        type: 'linear', min: 520, max: 536, reverse: true,
        grid: { display: false, drawTicks: false }, border: { display: false },
        ticks: { stepSize: 2, padding: 4, color: INK, font: { size: 20 },
          callback: v => v === 536 ? '536 Ma' : String(v) },
        afterFit: s => { s.height = 30; }
      },
      y: {
        min: -8, max: 8,
        grid: { display: false, drawTicks: false }, border: { display: false },
        ticks: { stepSize: 2, padding: 5, color: INK, font: { size: 20 },
          callback: v => Math.abs(v) === 8 ? '' : String(v) },
        afterFit: s => { s.width = 79; }
      }
    }
  },
  plugins: [isotopeDecor]
});

const barDecor = {
  id: 'barDecor',
  afterDraw(chart) {
    const { ctx, chartArea: a, scales: { y } } = chart;
    ctx.save();
    // inward ticks
    ctx.strokeStyle = '#555'; ctx.lineWidth = 2;
    for (let v = 10; v <= 50; v += 10) line(ctx, a.left, y.getPixelForValue(v), a.left + 14, y.getPixelForValue(v));
    // titles
    rotatedText(ctx, 'Number of new SSF genera', 27, 142, '19px ' + FONT, INK);
    ctx.fillStyle = INK;
    ctx.font = 'bold 20px ' + FONT; ctx.textAlign = 'center'; ctx.textBaseline = 'middle';
    ctx.fillText('2 million year age bins (Ma)', 701, 328);
    // legend
    ctx.fillStyle = '#fff';
    ctx.fillRect(131, 42, 135, 132);
    ctx.lineWidth = 1.2; ctx.strokeStyle = '#555';
    ctx.strokeRect(131.5, 42.5, 134, 131);
    ctx.font = '17px ' + FONT; ctx.textAlign = 'left';
    chart.data.datasets.forEach((ds, i) => {
      const ly = 62 + i * 31;
      ctx.fillStyle = ds.backgroundColor;
      ctx.fillRect(148, ly - 5, 18, 11);
      ctx.fillStyle = INK;
      ctx.fillText(ds.label, 176, ly);
    });
    ctx.restore();
  }
};

new Chart(document.getElementById('bars'), {
  type: 'bar',
  data: {
    labels: ageBins,
    datasets: [
      { label: 'Mongolia', data: mongolia, backgroundColor: '#a2569d' },
      { label: 'China', data: china, backgroundColor: '#a8504e' },
      { label: 'Siberia', data: siberia, backgroundColor: '#e8ae4b' },
      { label: 'Total', data: total, backgroundColor: '#000000' }
    ]
  },
  options: {
    responsive: false,
    animation: false,
    layout: { padding: { top: 10, right: 25, bottom: 0, left: 0 } },
    datasets: { bar: { categoryPercentage: 0.705, barPercentage: 0.816, borderWidth: 0 } },
    plugins: { legend: { display: false }, tooltip: { enabled: false } },
    scales: {
      x: {
        grid: { display: false, drawTicks: false },
        border: { display: true, color: '#555', width: 2 },
        ticks: { padding: 8, color: INK, font: { size: 20 } },
        afterFit: s => { s.height = 71; }
      },
      y: {
        min: 0, max: 60,
        grid: { display: false, drawTicks: false },
        border: { display: true, color: '#555', width: 2 },
        ticks: { stepSize: 10, padding: 5, color: INK, font: { size: 20 },
          callback: v => (v === 0 || v === 60) ? '' : String(v) },
        afterFit: s => { s.width = 80; }
      }
    }
  },
  plugins: [barDecor]
});

const generaDecor = {
  id: 'generaDecor',
  afterDraw(chart) {
    const { ctx, chartArea: a, scales: { x, y } } = chart;
    ctx.save();
    // axis ticks pointing up
    ctx.strokeStyle = '#555'; ctx.lineWidth = 2;
    for (let age = 536; age >= 520; age -= 2) {
      const px = x.getPixelForValue(age);
      line(ctx, px, a.bottom - 8, px, a.bottom);
    }
    // scale bar: 50 genera
    const sx = x.getPixelForValue(534.89);
    ctx.fillStyle = GREEN;
    ctx.fillRect(sx - 3, y.getPixelForValue(70.5), 6, y.getPixelForValue(20.5) - y.getPixelForValue(70.5));
    rotatedText(ctx, '50 genera', sx - 21, (y.getPixelForValue(70.5) + y.getPixelForValue(20.5)) / 2, '19px ' + FONT, INK);
    // area caption
    ctx.fillStyle = INK;
    ctx.font = 'bold 20px ' + FONT; ctx.textAlign = 'center'; ctx.textBaseline = 'middle';
    ctx.fillText('Total number of small shelly fossil genera that have appeared', 809, 155);
    ctx.fillText('(not = standing diversity)', 809, 182);
    // first appearance ranges
    const rowY = [-104, -123.3, -142];
    groupNames.forEach((name, i) => {
      const py = y.getPixelForValue(rowY[i]);
      ctx.strokeStyle = '#222'; ctx.lineWidth = 3.5;
      ctx.setLineDash([12, 11]);
      line(ctx, x.getPixelForValue(dashedFrom[i]), py, x.getPixelForValue(solidFrom[i]) - 8, py);
      ctx.setLineDash([]);
      line(ctx, x.getPixelForValue(solidFrom[i]), py, x.getPixelForValue(rangeEnd) + 3, py);
      ctx.fillStyle = INK; ctx.font = '19px ' + FONT;
      ctx.textAlign = 'right'; ctx.textBaseline = 'alphabetic';
      ctx.fillText(name, x.getPixelForValue(rangeEnd), py - 9);
    });
    // E-C boundary
    const bx = x.getPixelForValue(boundaryAge);
    ctx.strokeStyle = RED; ctx.lineWidth = 1.6; ctx.setLineDash([10, 5]);
    line(ctx, bx, y.getPixelForValue(84.7), bx, a.bottom);
    ctx.setLineDash([]);
    rotatedText(ctx, 'E-C boundary (based on first occurrence of', bx - 12, 10, '21px ' + FONT, RED, 'right');
    ctx.save();
    ctx.translate(bx + 16, 15);
    ctx.rotate(-Math.PI / 2);
    ctx.fillStyle = RED; ctx.textBaseline = 'middle'; ctx.textAlign = 'left';
    ctx.font = '21px ' + FONT;
    const rest = ' in SW Laurentia)';
    const wr = ctx.measureText(rest).width;
    ctx.font = 'italic 21px ' + FONT;
    const it = 'T. pedum';
    const wi = ctx.measureText(it).width;
    ctx.fillText(it, -(wi + wr), 0);
    ctx.font = '21px ' + FONT;
    ctx.fillText(rest, -wr, 0);
    ctx.restore();
    ctx.restore();
  }
};

new Chart(document.getElementById('genera'), {
  type: 'line',
  data: {
    datasets: [
      { label: 'upper', data: binStart.map((a, i) => ({ x: a, y: cumulativeGenera[i] / 2 })),
        stepped: true, fill: '+1', backgroundColor: GREEN, borderColor: GREEN, borderWidth: 1, pointRadius: 0 },
      { label: 'lower', data: binStart.map((a, i) => ({ x: a, y: -cumulativeGenera[i] / 2 })),
        stepped: true, fill: false, borderColor: GREEN, borderWidth: 1, pointRadius: 0 }
    ]
  },
  options: {
    responsive: false,
    animation: false,
    layout: { padding: { top: 6, right: 25, bottom: 0, left: 79 } },
    plugins: { legend: { display: false }, tooltip: { enabled: false } },
    scales: {
      x: {
        type: 'linear', min: 520, max: 536, reverse: true,
        grid: { display: false, drawTicks: false },
        border: { display: true, color: '#555', width: 2 },
        ticks: { stepSize: 2, padding: 4, color: INK, font: { size: 20 },
          callback: v => v === 536 ? '536 Ma' : String(v) },
        afterFit: s => { s.height = 27; }
      },
      y: { display: false, min: -158, max: 89.7 }
    }
  },
  plugins: [generaDecor]
});
</script>
</body>
</html>
